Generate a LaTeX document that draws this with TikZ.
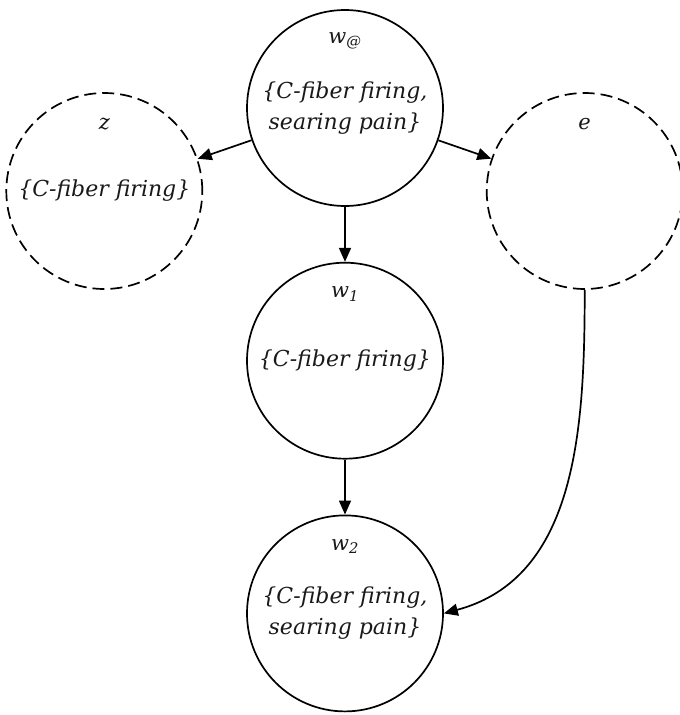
\documentclass[tikz,border=0pt]{standalone}
\usepackage{fontspec}
\setmainfont{DejaVu Serif}
\usepackage{tikz}
\usetikzlibrary{positioning,arrows.meta}
\tikzstyle{world}=[circle, draw=black, line width=1.7pt, minimum size=196pt, inner sep=0pt,
        align=center, text=black!90, font=\itshape\fontsize{22}{31}\selectfont]
\tikzstyle{possible}=[world, dash pattern=on 12pt off 6pt]
\tikzstyle{lbl}=[anchor=center, yshift=-32pt, text=black!90, font=\itshape\fontsize{21}{24}\selectfont]
\tikzstyle{line}=[line width=1.7pt,-{Triangle[length=14pt,width=12pt]}]
\newcommand{\worldnode}[4]{
\node (#1) [#2, label={[lbl]north:#3}] {#4};}

\begin{document}
\begin{tikzpicture}[node distance=55pt]
\useasboundingbox (0,0) rectangle (680pt,-715pt);

\worldnode{wat}{world, at={(345pt,-108pt)}}{w\textsubscript{@}}{\{C-fiber firing,\\ searing pain\}}
\worldnode{z}{possible, left=43pt of wat, yshift=-83pt}{z}{\{C-fiber firing\}}
\worldnode{e}{possible, right=42pt of wat, yshift=-83pt}{e}{}
\worldnode{wone}{world, below=of wat}{w\textsubscript{1}}{\{C-fiber firing\}}
\worldnode{wtwo}{world, below=of wone}{w\textsubscript{2}}{\{C-fiber firing,\\ searing pain\}}

% draw lines
\draw[line] (wat) -- (z);
\draw[line] (wat) -- (e);
\draw[line] (wat) -- (wone);
\draw[line] (wone) -- (wtwo);
\draw[line] (e.south) to[out=-90, in=15] (wtwo.east);

\end{tikzpicture}
\end{document}
